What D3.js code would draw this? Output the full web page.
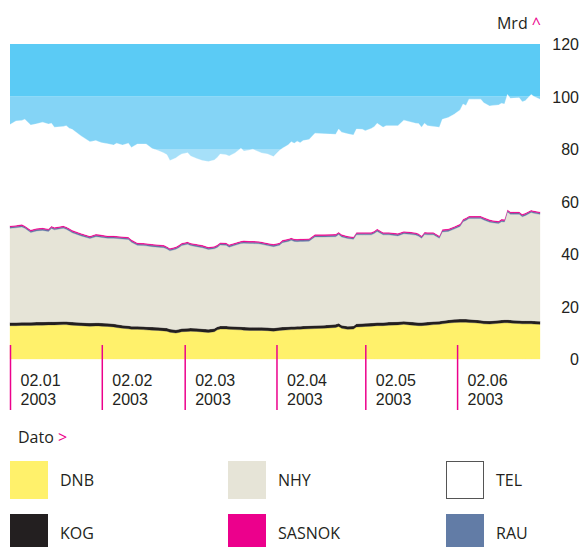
<!DOCTYPE html>
<meta charset="utf-8">
<style>
body { margin: 0; background: #fff; }
svg { display: block; font-family: "Open Sans", sans-serif; }
.lbl { fill: #231f20; font-size: 16px; }
.axis--y .domain, .axis--x .domain { display: none; }
</style>
<svg width="582" height="547"></svg>
<script src="https://d3js.org/d3.v7.min.js"></script>
<script>

// dates of the readings (2003)
var dates = ["2003-01-02","2003-01-04","2003-01-06","2003-01-07","2003-01-09","2003-01-11","2003-01-13","2003-01-15","2003-01-16","2003-01-17",
  "2003-01-20","2003-01-21","2003-01-22","2003-01-23","2003-01-26","2003-01-29","2003-01-31","2003-02-01","2003-02-02","2003-02-04",
  "2003-02-06","2003-02-07","2003-02-09","2003-02-11","2003-02-12","2003-02-14","2003-02-16","2003-02-17","2003-02-19","2003-02-21",
  "2003-02-23","2003-02-24","2003-02-25","2003-02-27","2003-02-28","2003-03-01","2003-03-03","2003-03-04","2003-03-06","2003-03-08",
  "2003-03-10","2003-03-12","2003-03-13","2003-03-14","2003-03-16","2003-03-17","2003-03-19","2003-03-21","2003-03-22","2003-03-24",
  "2003-03-25","2003-03-27","2003-03-28","2003-03-30","2003-04-01","2003-04-03","2003-04-04","2003-04-06","2003-04-07","2003-04-08",
  "2003-04-09","2003-04-10","2003-04-11","2003-04-13","2003-04-15","2003-04-18","2003-04-22","2003-04-23","2003-04-24","2003-04-26",
  "2003-04-28","2003-04-29","2003-05-01","2003-05-02","2003-05-04","2003-05-05","2003-05-06","2003-05-08","2003-05-09","2003-05-10",
  "2003-05-13","2003-05-15","2003-05-17","2003-05-19","2003-05-20","2003-05-21","2003-05-22","2003-05-23","2003-05-25","2003-05-27",
  "2003-05-28","2003-05-30","2003-06-01","2003-06-03","2003-06-04","2003-06-05","2003-06-06","2003-06-08","2003-06-10","2003-06-11",
  "2003-06-13","2003-06-14","2003-06-16","2003-06-17","2003-06-18","2003-06-19","2003-06-20","2003-06-21","2003-06-23","2003-06-24",
  "2003-06-25","2003-06-27","2003-06-28","2003-06-30"];

// market value, Mrd
var dnb = [12.7,12.7,12.8,12.8,12.8,12.9,12.9,13.0,13.0,13.0,
  13.1,13.1,13.0,12.9,12.7,12.5,12.6,12.6,12.5,12.4,
  12.2,12.0,11.7,11.5,11.3,11.3,11.2,11.1,11.0,10.9,
  10.7,10.6,10.2,9.9,10.1,10.4,10.5,10.6,10.5,10.3,
  10.1,10.4,11.1,11.4,11.4,11.3,11.2,11.1,11.0,10.9,
  10.9,10.9,10.9,10.8,10.6,10.9,11.0,11.1,11.2,11.2,
  11.3,11.3,11.4,11.5,11.6,11.7,12.0,12.4,11.7,11.3,
  11.4,12.2,12.3,12.4,12.5,12.6,12.7,12.7,12.8,12.9,
  13.0,13.2,13.0,12.8,12.7,12.7,12.8,12.9,13.1,13.2,
  13.4,13.7,13.9,14.0,14.0,14.0,13.9,13.8,13.6,13.4,
  13.3,13.4,13.6,13.7,13.8,13.8,13.7,13.6,13.5,13.4,
  13.4,13.4,13.3,13.2];
var kog = [1.2,1.2,1.2,1.2,1.2,1.2,1.2,1.2,1.2,1.2,
  1.2,1.2,1.2,1.2,1.2,1.2,1.2,1.2,1.2,1.2,
  1.2,1.2,1.2,1.2,1.2,1.2,1.2,1.2,1.2,1.2,
  1.2,1.2,1.2,1.2,1.2,1.2,1.2,1.2,1.2,1.2,
  1.2,1.2,1.2,1.2,1.2,1.2,1.2,1.2,1.2,1.2,
  1.2,1.2,1.2,1.2,1.2,1.2,1.2,1.2,1.2,1.2,
  1.2,1.2,1.2,1.2,1.2,1.2,1.2,1.2,1.2,1.2,
  1.2,1.2,1.2,1.2,1.2,1.2,1.2,1.2,1.2,1.2,
  1.2,1.2,1.2,1.2,1.2,1.2,1.2,1.2,1.2,1.2,
  1.2,1.2,1.2,1.2,1.2,1.2,1.2,1.2,1.2,1.2,
  1.2,1.2,1.2,1.2,1.2,1.2,1.2,1.2,1.2,1.2,
  1.2,1.2,1.2,1.2];
var nhy = [35.9,36.1,36.3,35.8,34.2,34.7,34.9,34.4,35.5,35.0,
  35.5,35.1,34.6,34.0,33.0,32.2,32.8,32.7,32.6,32.4,
  32.6,32.7,32.8,32.8,32.0,30.8,30.8,30.8,30.6,30.5,
  30.5,30.1,29.8,30.7,31.1,31.6,32.0,31.4,31.1,30.9,
  30.4,30.4,30.2,30.8,30.7,30.1,30.9,31.7,31.9,31.9,
  31.9,31.8,31.6,31.2,31.0,31.2,32.1,32.5,32.8,32.4,
  32.2,32.3,32.2,32.2,33.7,33.6,33.4,33.8,33.6,33.4,
  33.0,33.9,33.8,33.7,33.6,34.0,34.7,33.4,33.3,33.2,
  32.7,33.3,33.3,33.2,32.9,32.1,33.4,33.2,33.0,31.6,
  33.8,33.7,34.4,35.3,37.1,37.6,38.4,38.5,38.7,38.4,
  37.6,37.3,36.8,37.4,37.2,41.0,40.2,40.3,40.4,39.6,
  40.0,41.2,41.0,40.7];
var rau = [0.5,0.5,0.5,0.5,0.5,0.5,0.5,0.5,0.5,0.5,
  0.5,0.5,0.5,0.5,0.5,0.5,0.5,0.5,0.5,0.5,
  0.5,0.5,0.5,0.5,0.5,0.5,0.5,0.5,0.5,0.5,
  0.5,0.5,0.5,0.5,0.5,0.5,0.5,0.5,0.5,0.5,
  0.5,0.5,0.5,0.5,0.5,0.5,0.5,0.5,0.5,0.5,
  0.5,0.5,0.5,0.5,0.5,0.5,0.5,0.5,0.5,0.5,
  0.5,0.5,0.5,0.5,0.5,0.5,0.5,0.5,0.5,0.5,
  0.5,0.5,0.5,0.5,0.5,0.5,0.5,0.5,0.5,0.5,
  0.5,0.5,0.5,0.5,0.5,0.5,0.5,0.5,0.5,0.5,
  0.5,0.5,0.5,0.5,0.5,0.5,0.5,0.5,0.5,0.5,
  0.5,0.5,0.5,0.5,0.5,0.5,0.5,0.5,0.5,0.5,
  0.5,0.5,0.5,0.5];
var sasnok = [0.5,0.5,0.5,0.5,0.5,0.5,0.5,0.5,0.5,0.5,
  0.5,0.5,0.5,0.5,0.5,0.5,0.5,0.5,0.5,0.5,
  0.5,0.5,0.5,0.5,0.5,0.5,0.5,0.5,0.5,0.5,
  0.5,0.5,0.5,0.5,0.5,0.5,0.5,0.5,0.5,0.5,
  0.5,0.5,0.5,0.5,0.5,0.5,0.5,0.5,0.5,0.5,
  0.5,0.5,0.5,0.5,0.5,0.5,0.5,0.5,0.5,0.5,
  0.5,0.5,0.5,0.5,0.5,0.5,0.5,0.5,0.5,0.5,
  0.5,0.5,0.5,0.5,0.5,0.5,0.5,0.5,0.5,0.5,
  0.5,0.5,0.5,0.5,0.5,0.5,0.5,0.5,0.5,0.5,
  0.5,0.5,0.5,0.5,0.5,0.5,0.5,0.5,0.5,0.5,
  0.5,0.5,0.5,0.5,0.5,0.5,0.5,0.5,0.5,0.5,
  0.5,0.5,0.5,0.5];
var tel = [38.5,39.7,39.6,40.5,39.9,39.8,40.2,39.9,39.1,38.1,
  37.8,38.5,38.1,38.4,37.1,35.9,35.6,35.3,35.1,35.0,
  34.5,35.3,34.8,35.7,35.1,37.6,37.7,37.8,36.4,35.8,
  35.1,34.9,33.4,33.8,34.0,33.9,33.9,33.1,32.6,32.2,
  32.5,32.8,33.3,33.7,33.5,33.7,34.2,35.3,34.1,34.6,
  34.9,34.1,33.8,33.9,33.3,35.1,35.0,35.8,36.6,36.4,
  37.3,36.6,37.4,37.7,38.5,38.3,38.0,39.2,38.9,38.9,
  38.7,39.3,39.2,38.7,39.5,39.7,40.2,40.0,40.6,40.6,
  41.0,42.3,41.9,41.6,41.9,41.3,41.4,40.6,40.3,41.3,
  41.9,42.4,42.7,43.4,43.8,42.8,44.5,44.5,44.5,43.6,
  43.3,43.7,44.2,44.1,43.9,43.8,43.2,43.3,43.4,42.8,
  42.8,44.0,43.5,42.9];

var seriesKeys = ["DNB", "KOG", "NHY", "RAU", "SASNOK", "TEL"];
var seriesColors = ["#fff16b", "#231f20", "#e6e4d7", "#627ca6", "#ec008c", "#ffffff"];
var tickDates = ["2003-01-02","2003-02-02","2003-03-02","2003-04-02","2003-05-02","2003-06-02"];
var yTicks = [0, 20, 40, 60, 80, 100, 120];
var bands = [[60, 80, "#a6e0f9"], [80, 100, "#84d4f6"], [100, 120, "#5bcbf5"]];
var legendRows = [["DNB", "NHY", "TEL"], ["KOG", "SASNOK", "RAU"]];

var parse = d3.timeParse("%Y-%m-%d");
var fmtTop = d3.timeFormat("%d.%m"), fmtYear = d3.timeFormat("%Y");

var table = dates.map(function(d, i) {
  return {date: parse(d), DNB: dnb[i], KOG: kog[i], NHY: nhy[i], RAU: rau[i], SASNOK: sasnok[i], TEL: tel[i]};
});

var svg = d3.select("svg");

var x = d3.scaleTime().domain([parse("2003-01-02"), parse("2003-06-30")]).range([10, 540]),
    y = d3.scaleLinear().domain([0, 120]).range([359, 44]);

var color = d3.scaleOrdinal().domain(seriesKeys).range(seriesColors);

// background bands
svg.append("g").selectAll("rect")
  .data(bands)
  .enter().append("rect")
    .attr("x", x.range()[0])
    .attr("width", x.range()[1] - x.range()[0])
    .attr("y", function(d) { return y(d[1]); })
    .attr("height", function(d) { return y(d[0]) - y(d[1]); })
    .attr("fill", function(d) { return d[2]; });

var stack = d3.stack().keys(seriesKeys);
var layers = stack(table);

var area = d3.area()
    .x(function(d) { return x(d.data.date); })
    .y0(function(d) { return y(d[0]); })
    .y1(function(d) { return y(d[1]); });

svg.append("g").selectAll("path")
  .data(layers)
  .enter().append("path")
    .attr("d", area)
    .attr("fill", function(d) { return color(d.key); })
    .attr("stroke", function(d) { return color(d.key); })
    .attr("stroke-width", 0.3);

// date ticks
var xAxis = svg.append("g")
    .attr("class", "axis axis--x")
    .attr("transform", "translate(0,345)")
    .call(d3.axisBottom(x).tickValues(tickDates.map(parse)).tickSize(65).tickFormat(""));

xAxis.selectAll(".tick line").attr("stroke", "#ec008c").attr("stroke-width", 1.5);
xAxis.selectAll(".tick").each(function(d) {
  var t = d3.select(this).append("text")
      .attr("class", "lbl")
      .attr("x", 10)
      .attr("text-anchor", "start");
  t.append("tspan").attr("x", 10).attr("y", 41).text(fmtTop(d));
  t.append("tspan").attr("x", 10).attr("y", 60).text(fmtYear(d));
});

// value axis
var yAxis = svg.append("g")
    .attr("class", "axis axis--y")
    .attr("transform", "translate(579,0)")
    .call(d3.axisRight(y).tickValues(yTicks).tickSize(0).tickPadding(0));

yAxis.selectAll("text")
    .attr("class", "lbl")
    .attr("text-anchor", "end")
    .attr("dy", "0.35em")
    .attr("font-family", null)
    .attr("font-size", null)
    .attr("fill", null);

var mrd = svg.append("text").attr("class", "lbl").attr("x", 541).attr("y", 29).attr("text-anchor", "end");
mrd.append("tspan").text("Mrd ");
mrd.append("tspan").attr("fill", "#ec008c").text("^");

var dato = svg.append("text").attr("class", "lbl").attr("x", 18).attr("y", 443);
dato.append("tspan").text("Dato ");
dato.append("tspan").attr("fill", "#ec008c").text(">");

// legend
var legend = svg.append("g");
legendRows.forEach(function(row, r) {
  row.forEach(function(key, c) {
    var g = legend.append("g").attr("transform", "translate(" + (10 + c * 218) + "," + (461 + r * 53) + ")");
    g.append("rect")
      .attr("x", key === "TEL" ? 0.5 : 0)
      .attr("y", key === "TEL" ? 0.5 : 0)
      .attr("width", key === "TEL" ? 37 : 38)
      .attr("height", key === "TEL" ? 37 : 38)
      .attr("fill", color(key))
      .attr("stroke", key === "TEL" ? "#555" : "none");
    g.append("text")
      .attr("class", "lbl")
      .attr("x", 50)
      .attr("y", 25)
      .text(key);
  });
});

</script>
